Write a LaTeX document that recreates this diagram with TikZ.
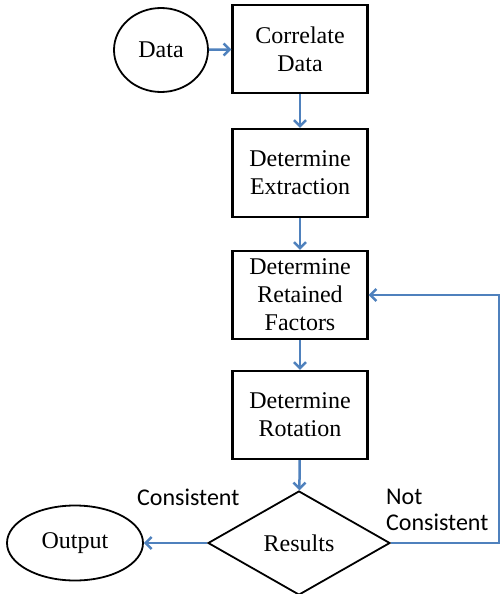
\documentclass[tikz,border=0pt]{standalone}
\usepackage{fontspec}
\setmainfont{Liberation Serif}
\newfontfamily\labelfont{Carlito}
\usetikzlibrary{shapes.geometric,arrows.meta}
\definecolor{flowblue}{RGB}{79,129,189}
\begin{document}
\begin{tikzpicture}[x=1pt,y=-1pt,
  box/.style={draw, line width=2.2pt, minimum width=135pt, minimum height=88pt,
    align=center, inner sep=0pt, font=\fontsize{24}{28}\selectfont},
  oval/.style={draw, ellipse, line width=1.8pt, inner sep=0pt, font=\fontsize{24}{28}\selectfont},
  decision/.style={draw, diamond, line width=1.8pt, inner sep=0pt, minimum width=182pt,
    minimum height=104pt, font=\fontsize{24}{28}\selectfont},
  conn/.style={draw=flowblue, line width=2.5pt, -{Straight Barb[length=6pt,width=12pt,line width=2.5pt]}},
  lbl/.style={font=\labelfont\fontsize{24}{26}\selectfont, inner sep=0pt, align=left}
]
\useasboundingbox (0,0) rectangle (502,594);
\node[oval, minimum width=94pt, minimum height=84pt] (data) at (161,50) {Data};
\node[box] (corr) at (300,49) {Correlate\\Data};
\node[box] (extr) at (300,173) {Determine\\Extraction};
\node[box] (ret) at (300,295) {Determine\\Retained\\Factors};
\node[box] (rot) at (300,415) {Determine\\Rotation};
\node[decision] (res) at (299,543) {Results};
\node[oval, minimum width=136pt, minimum height=75pt] (out) at (75,543) {Output};
\coordinate (c1) at (499,543);
\coordinate (c2) at (499,295);
\node[lbl, anchor=west] (cons) at (137,497) {Consistent};
\node[lbl, anchor=west] (ncons) at (386,510) {Not\\Consistent};
\draw[conn] (data) -- (corr);
\draw[conn] (corr) -- (extr);
\draw[conn] (extr) -- (ret);
\draw[conn] (ret) -- (rot);
\draw[conn] (rot) -- (res);
\draw[conn] (res.west) -- (out.east);
\draw[conn] (res.east) -- (c1) -- (c2) -- (ret.east);
\end{tikzpicture}
\end{document}
